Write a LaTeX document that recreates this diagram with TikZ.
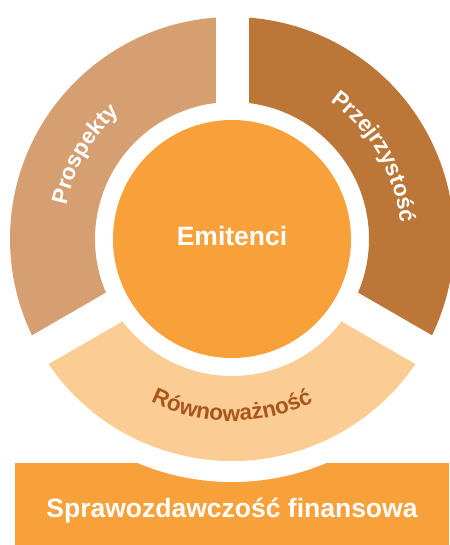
\documentclass[tikz,border=0pt]{standalone}
\usepackage{fontspec}
\setmainfont{Liberation Sans}
\usetikzlibrary{decorations.text,calc}
\definecolor{cProsp}{HTML}{D69F72}
\definecolor{cPrzej}{HTML}{BC7637}
\definecolor{cRown}{HTML}{FBCD95}
\definecolor{cMain}{HTML}{F8A13B}
\definecolor{cRownText}{HTML}{A9561C}
\newcommand{\ringsector}[3]{%
  \fill[#1] ($(c)+(#2:222)$) arc[start angle=#2,end angle=#3,radius=222]
    -- ($(c)+(#3:137)$) arc[start angle=#3,end angle=#2,radius=137] -- cycle;}
\tikzset{
  bigtext/.style={font=\fontsize{26.5}{30}\selectfont\bfseries, text=white, inner sep=0pt, anchor=base},
  gapline/.style={white, line width=33pt},
}
\begin{document}
\begin{tikzpicture}[x=1pt,y=1pt]
\useasboundingbox (0,0) rectangle (449,545);
\coordinate (c) at (232,306);
% bottom bar
\node[fill=cMain, minimum width=434pt, minimum height=82pt, inner sep=0pt, anchor=south west] (bar) at (15,0) {};
% white halo
\fill[white] (c) circle[radius=243];
% ring sectors
\ringsector{cPrzej}{-30}{90}
\ringsector{cProsp}{90}{210}
\ringsector{cRown}{210}{330}
% gaps
\draw[gapline] (c) -- ++(90:235);
\draw[gapline] (c) -- ++(210:235);
\draw[gapline] (c) -- ++(330:235);
% center
\node[circle, fill=cMain, minimum size=238pt, inner sep=0pt] (center) at (c) {};
\node[bigtext] (emit) at (232,299) {Emitenci};
\node[bigtext] (bartext) at (232,27) {Sprawozdawczość finansowa};
% curved labels
\path[decorate, font=\fontsize{22.5}{26}\selectfont\bfseries, decoration={text along path, text align=center,
  text={|\fontsize{22.5}{26}\selectfont\bfseries\color{white}|Prospekty}}]
  ($(c)+(205:169)$) arc[start angle=205, end angle=95, radius=169];
\path[decorate, font=\fontsize{22.5}{26}\selectfont\bfseries, decoration={text along path, text align=center,
  text={|\fontsize{22.5}{26}\selectfont\bfseries\color{white}|Przejrzystość}}]
  ($(c)+(85:169)$) arc[start angle=85, end angle=-25, radius=169];
\path[decorate, font=\fontsize{22.5}{26}\selectfont\bfseries, decoration={text along path, text align=center,
  text={|\fontsize{22.5}{26}\selectfont\bfseries\color{cRownText}|Równoważność}}]
  ($(c)+(200:182)$) arc[start angle=200, end angle=340, radius=182];
\end{tikzpicture}
\end{document}
